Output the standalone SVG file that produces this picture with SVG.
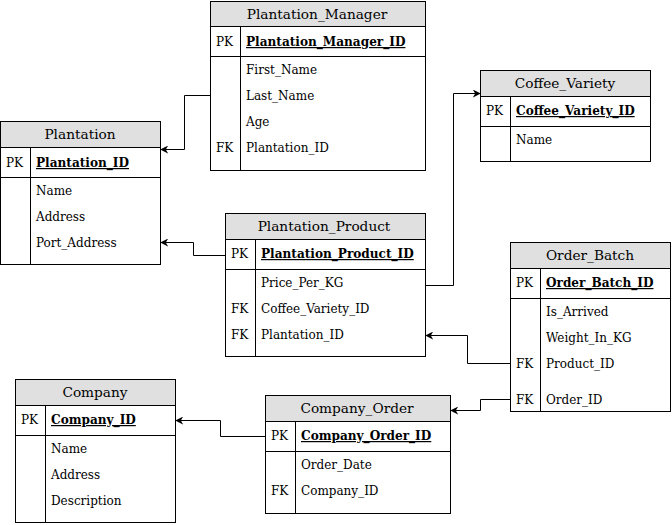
<svg xmlns="http://www.w3.org/2000/svg" width="672" height="525" viewBox="0 0 672 525">
<style>
.box{fill:#fff;stroke:#000;stroke-width:1}
.hd{fill:#e0e0e0;stroke:#000;stroke-width:1}
.ln{stroke:#000;stroke-width:1;fill:none}
.t{font-family:"DejaVu Serif",serif;font-size:13.7px;text-anchor:middle;fill:#000}
.f{font-family:"DejaVu Serif",serif;font-size:12px;fill:#000}
.pk{font-family:"DejaVu Serif",serif;font-size:12.1px;font-weight:bold;text-decoration:underline;fill:#000}
.c{stroke:#000;stroke-width:1;fill:none;marker-end:url(#arr)}
</style>
<defs>
<marker id="arr" viewBox="0 0 10 10" refX="9" refY="5" markerWidth="8" markerHeight="8" markerUnits="userSpaceOnUse" orient="auto">
<path d="M0,0 L10,5 L0,10 L3,5 Z" fill="#000"/>
</marker>
</defs>
<rect width="672" height="525" fill="#fff"/>

<g id="Plantation_Manager">
<rect class="box" x="210.5" y="1.5" width="215" height="169"/>
<rect class="hd" x="210.5" y="1.5" width="215" height="25"/>
<line class="ln" x1="210.5" y1="56.5" x2="425.5" y2="56.5"/>
<line class="ln" x1="240.5" y1="26.5" x2="240.5" y2="170.5"/>
<text class="t" x="317" y="18.5">Plantation_Manager</text>
<text class="f" x="216" y="46">PK</text>
<text class="pk" x="246" y="46">Plantation_Manager_ID</text>
<text class="f" x="246" y="74">First_Name</text>
<text class="f" x="246" y="100">Last_Name</text>
<text class="f" x="246" y="126">Age</text>
<text class="f" x="216" y="152">FK</text>
<text class="f" x="246" y="152">Plantation_ID</text>
</g>

<g id="Plantation">
<rect class="box" x="0.5" y="121.5" width="160" height="143"/>
<rect class="hd" x="0.5" y="121.5" width="160" height="26"/>
<line class="ln" x1="0.5" y1="177.5" x2="160.5" y2="177.5"/>
<line class="ln" x1="30.5" y1="147.5" x2="30.5" y2="264.5"/>
<text class="t" x="80" y="138.5">Plantation</text>
<text class="f" x="6" y="167">PK</text>
<text class="pk" x="36" y="167">Plantation_ID</text>
<text class="f" x="36" y="195">Name</text>
<text class="f" x="36" y="221">Address</text>
<text class="f" x="36" y="247">Port_Address</text>
</g>

<g id="Coffee_Variety">
<rect class="box" x="480.5" y="70.5" width="170" height="91"/>
<rect class="hd" x="480.5" y="70.5" width="170" height="26"/>
<line class="ln" x1="480.5" y1="126.5" x2="650.5" y2="126.5"/>
<line class="ln" x1="510.5" y1="96.5" x2="510.5" y2="161.5"/>
<text class="t" x="565" y="87.5">Coffee_Variety</text>
<text class="f" x="486" y="115">PK</text>
<text class="pk" x="516" y="115">Coffee_Variety_ID</text>
<text class="f" x="516" y="144">Name</text>
</g>

<g id="Plantation_Product">
<rect class="box" x="225.5" y="213.5" width="200" height="143"/>
<rect class="hd" x="225.5" y="213.5" width="200" height="26"/>
<line class="ln" x1="225.5" y1="269.5" x2="425.5" y2="269.5"/>
<line class="ln" x1="255.5" y1="239.5" x2="255.5" y2="356.5"/>
<text class="t" x="324" y="230.5">Plantation_Product</text>
<text class="f" x="231" y="258">PK</text>
<text class="pk" x="261" y="258">Plantation_Product_ID</text>
<text class="f" x="261" y="287">Price_Per_KG</text>
<text class="f" x="231" y="313">FK</text>
<text class="f" x="261" y="313">Coffee_Variety_ID</text>
<text class="f" x="231" y="339">FK</text>
<text class="f" x="261" y="339">Plantation_ID</text>
</g>

<g id="Order_Batch">
<rect class="box" x="510.5" y="242.5" width="160" height="169"/>
<rect class="hd" x="510.5" y="242.5" width="160" height="26"/>
<line class="ln" x1="510.5" y1="298.5" x2="670.5" y2="298.5"/>
<line class="ln" x1="540.5" y1="268.5" x2="540.5" y2="411.5"/>
<text class="t" x="590" y="259.5">Order_Batch</text>
<text class="f" x="516" y="287">PK</text>
<text class="pk" x="546" y="287">Order_Batch_ID</text>
<text class="f" x="546" y="316">Is_Arrived</text>
<text class="f" x="546" y="342">Weight_In_KG</text>
<text class="f" x="516" y="368">FK</text>
<text class="f" x="546" y="368">Product_ID</text>
<text class="f" x="516" y="404">FK</text>
<text class="f" x="546" y="404">Order_ID</text>
</g>

<g id="Company_Order">
<rect class="box" x="265.5" y="395.5" width="185" height="118"/>
<rect class="hd" x="265.5" y="395.5" width="185" height="26"/>
<line class="ln" x1="265.5" y1="451.5" x2="450.5" y2="451.5"/>
<line class="ln" x1="295.5" y1="421.5" x2="295.5" y2="513.5"/>
<text class="t" x="357" y="412.5">Company_Order</text>
<text class="f" x="271" y="440">PK</text>
<text class="pk" x="301" y="440">Company_Order_ID</text>
<text class="f" x="301" y="469">Order_Date</text>
<text class="f" x="271" y="495">FK</text>
<text class="f" x="301" y="495">Company_ID</text>
</g>

<g id="Company">
<rect class="box" x="15.5" y="379.5" width="160" height="143"/>
<rect class="hd" x="15.5" y="379.5" width="160" height="26"/>
<line class="ln" x1="15.5" y1="435.5" x2="175.5" y2="435.5"/>
<line class="ln" x1="45.5" y1="405.5" x2="45.5" y2="522.5"/>
<text class="t" x="95" y="396.5">Company</text>
<text class="f" x="21" y="424">PK</text>
<text class="pk" x="51" y="424">Company_ID</text>
<text class="f" x="51" y="453">Name</text>
<text class="f" x="51" y="479">Address</text>
<text class="f" x="51" y="505">Description</text>
</g>

<g id="connectors">
<path class="c" d="M210,95.5 H184.5 V149.5 H161"/>
<path class="c" d="M225,255.5 H193.5 V242.5 H161"/>
<path class="c" d="M425,285.5 H453.5 V93.5 H480"/>
<path class="c" d="M510,363.5 H467.5 V335.5 H426"/>
<path class="c" d="M510,399.5 H480.5 V410.5 H451"/>
<path class="c" d="M265,436.5 H220.5 V420.5 H176"/>
</g>
</svg>
